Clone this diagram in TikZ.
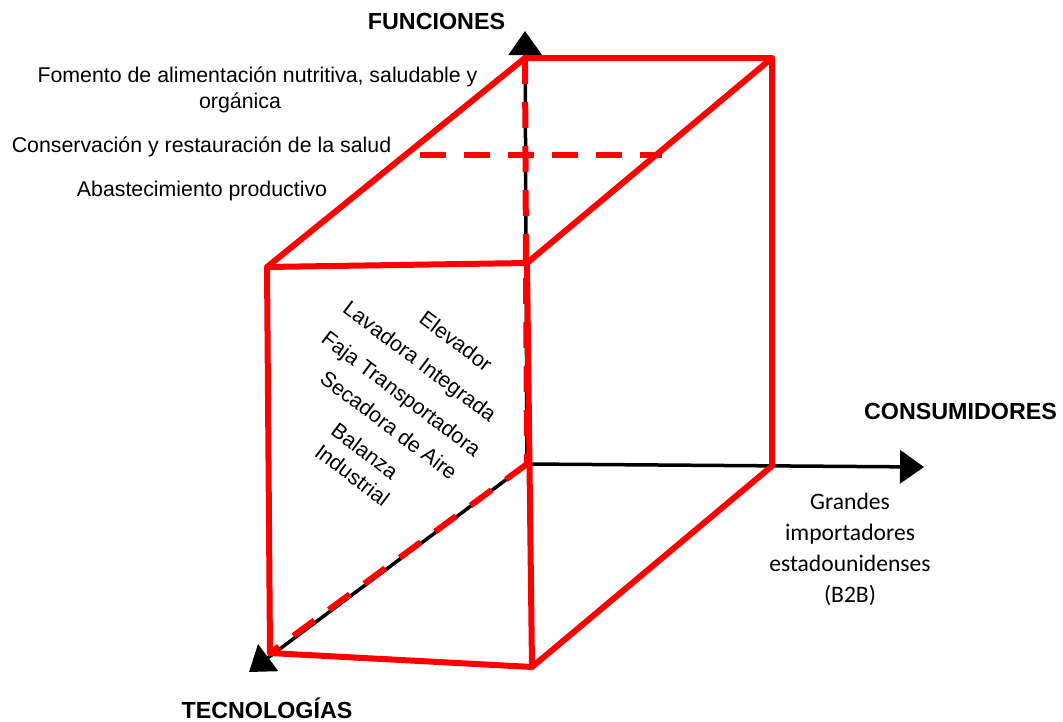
\documentclass[tikz,border=0pt]{standalone}
\usepackage{fontspec}
\setmainfont{Liberation Sans}
\newfontfamily\calib{Carlito}
\usetikzlibrary{arrows.meta}
\begin{document}
\begin{tikzpicture}[x=1pt,y=-1pt,
  axis/.style={line width=3.5pt,-{Triangle[length=24pt,width=33pt]}},
  edge/.style={red,line width=6pt,line join=round},
  hid/.style={red,line width=6pt,dash pattern=on 26pt off 18pt},
  lbl/.style={font=\fontsize{21.33}{26}\selectfont,inner sep=0pt},
  rot/.style={lbl,rotate=-37,text height=15.3pt,text depth=0pt},
  head/.style={font=\fontsize{23.3}{28}\selectfont\bfseries,inner sep=0pt,anchor=base}]
\useasboundingbox (0,0) rectangle (1063,721);
% coordinates
\coordinate (O) at (527,464);
\coordinate (Ftip) at (525,31);
\coordinate (Ctip) at (924,467);
\coordinate (Ttip) at (249,672);
\coordinate (FTL) at (267,267);
\coordinate (FTR) at (527,263);
\coordinate (FBR) at (532,667);
\coordinate (FBL) at (270,653);
\coordinate (BTL) at (525,58);
\coordinate (BTR) at (772,58);
\coordinate (BBR) at (772,466);
\coordinate (DL) at (420,155);
\coordinate (DR) at (662,155);
% axes
\draw[axis] (O) -- (Ftip);
\draw[axis] (O) -- (Ctip);
\draw[axis] (O) -- (Ttip);
% cube
\draw[edge] (FBL) -- (FTL) -- (BTL) -- (BTR) -- (BBR) -- (FBR) -- cycle;
\draw[edge] (FTL) -- (FTR) -- (FBR);
\draw[edge] (FTR) -- (BTR);
\draw[hid] (BTL) -- (O);
\draw[hid] (O) -- (FBL);
\draw[hid] (DL) -- (DR);
% headings
\node[head] (fun) at (436.5,29) {FUNCIONES};
\node[head] (con) at (960.5,419) {CONSUMIDORES};
\node[head] (tec) at (267,718) {TECNOLOGÍAS};
% function labels
\node[lbl,anchor=base,align=center] (fom) at (257.5,108) {Fomento de alimentación nutritiva, saludable y\\orgánica\hspace*{35pt}};
\node[lbl,anchor=base] (cons) at (201.5,152) {Conservación y restauración de la salud};
\node[lbl,anchor=base] (abas) at (202,196) {Abastecimiento productivo};
% technology labels
\node[rot] (t1) at (456,341) {Elevador};
\node[rot] (t2) at (420,361) {Lavadora Integrada};
\node[rot] (t3) at (401.5,393.5) {Faja Transportadora};
\node[rot] (t4) at (389,425) {Secadora de Aire};
\node[rot] (t5) at (365,451) {Balanza};
\node[rot] (t6) at (352.5,475) {Industrial};
% consumer label
\node[font=\calib\fontsize{23.6}{31}\selectfont,inner sep=0pt,anchor=base,align=center] (gra) at (850,602) {Grandes\\importadores\\estadounidenses\\(B2B)};
\end{tikzpicture}
\end{document}
